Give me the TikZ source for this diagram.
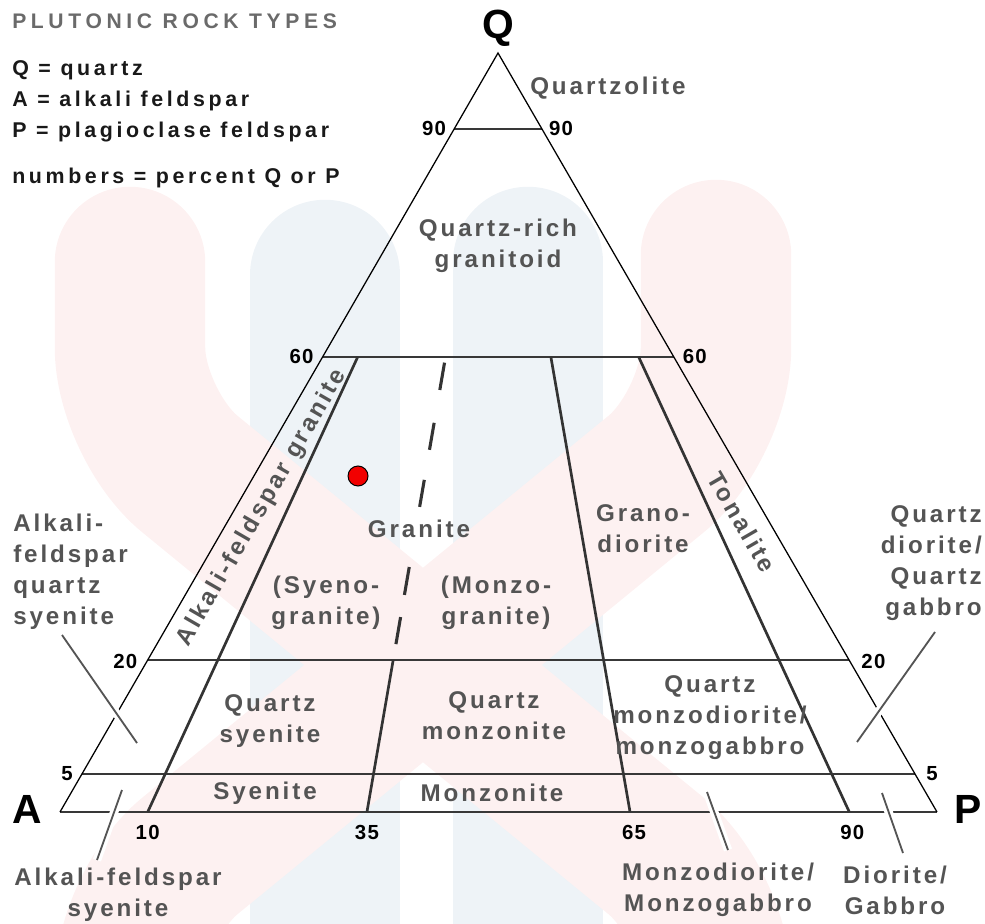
\documentclass[tikz,border=0pt]{standalone}
\usepackage{fontspec}
\setmainfont{Liberation Sans}
\newfontfamily\rockfont[LetterSpace=12]{Liberation Sans}
\newfontfamily\legendfont[LetterSpace=17]{Liberation Sans}
\newfontfamily\titlefont[LetterSpace=22]{Liberation Sans}
\newfontfamily\pctfont[LetterSpace=6]{Liberation Sans}
\usetikzlibrary{calc}

\definecolor{rockgray}{HTML}{545454}
\definecolor{titlegray}{HTML}{6A6A6A}
\definecolor{wmpink}{HTML}{FDF1F1}
\definecolor{wmblue}{HTML}{EEF3F7}

\begin{document}
\begin{tikzpicture}[x=0.025cm, y=-0.025cm,
    edge/.style={draw=black, line width=0.9pt},
    divide/.style={draw=black!78, line width=1.4pt},
    ratio/.style={draw=black!80, line width=1.9pt},
    pointer/.style={draw=rockgray, line width=1.3pt, preaction={draw=white, line width=6pt}},
    rock/.style={text=rockgray, font=\rockfont\bfseries\fontsize{17.2}{22}\selectfont, align=center, inner sep=0pt},
    pct/.style={font=\pctfont\bfseries\fontsize{14.5}{16}\selectfont, inner sep=0pt},
    corner/.style={font=\bfseries\fontsize{29}{30}\selectfont, inner sep=0pt},
    legend/.style={text=black!90, font=\legendfont\bfseries\fontsize{15.2}{16}\selectfont, inner sep=0pt, anchor=base west},
    logo/.style={line width=107pt, line cap=round, rounded corners=55pt}]

  \useasboundingbox (0,0) rectangle (985,924);

  % faint logo behind the diagram
  \draw[logo, wmblue] (325,275) -- (325,1000);
  \draw[logo, wmblue] (528,262) -- (528,1000);
  \draw[logo, wmpink] (130,262) -- (130,425) -- (716,905) -- (716,1050);
  \draw[logo, wmpink] (716,255) -- (716,425) -- (130,905) -- (130,1050);

  % corners of the triangle
  \coordinate (A) at (60,812);
  \coordinate (P) at (937,812);
  \coordinate (Q) at (498,53);

  % points on the sides
  \foreach \q in {90,60,20,5} {
    \coordinate (l\q) at ($(A)!\q/100!(Q)$);
    \coordinate (r\q) at ($(P)!\q/100!(Q)$);
  }
  \foreach \p in {10,35,65,90} {
    \coordinate (b\p) at ($(A)!\p/100!(P)$);
    \coordinate (t\p) at ($(Q)!0.4!(b\p)$);
  }
  \coordinate (m35) at ($(Q)!0.8!(b35)$);

  % Q lines
  \draw[divide] (l90) -- (r90);
  \draw[divide] (l60) -- (r60);
  \draw[divide] (l20) -- (r20);
  \draw[divide] (l5) -- (r5);
  \draw[divide] (A) -- (P);

  % P/(A+P) lines
  \draw[ratio] (b10) -- (t10);
  \draw[ratio] (b35) -- (m35);
  \draw[ratio] (b65) -- (t65);
  \draw[ratio] (b90) -- (t90);
  \foreach \s/\e in {0.02/0.11, 0.218/0.307, 0.406/0.495, 0.693/0.785, 0.858/0.947}
    \draw[ratio, line width=2.2pt] ($(t35)!\s!(m35)$) -- ($(t35)!\e!(m35)$);

  % outline
  \draw[edge, line join=miter] (A) -- (Q) -- (P);

  % corner letters
  \node[corner] (nQ) at (498,28) {Q};
  \node[corner] (nA) at (27,809) {A};
  \node[corner] (nP) at (968,809) {P};

  % percent numbers
  \node[pct, anchor=east] (nl90) at ($(l90)+(-8,0)$) {90};
  \node[pct, anchor=west] (nr90) at ($(r90)+(7,0)$) {90};
  \node[pct, anchor=east] (nl60) at ($(l60)+(-9,0)$) {60};
  \node[pct, anchor=west] (nr60) at ($(r60)+(9,0)$) {60};
  \node[pct, anchor=east] (nl20) at ($(l20)+(-10,1)$) {20};
  \node[pct, anchor=west] (nr20) at ($(r20)+(12,1)$) {20};
  \node[pct, anchor=east] (nl5) at ($(l5)+(-9,0)$) {5};
  \node[pct, anchor=west] (nr5) at ($(r5)+(11,0)$) {5};
  \node[pct] (nb10) at ($(b10)+(0,20)$) {10};
  \node[pct] (nb35) at ($(b35)+(0,20)$) {35};
  \node[pct] (nb65) at ($(b65)+(4,20)$) {65};
  \node[pct] (nb90) at ($(b90)+(3,20)$) {90};

  % rock names
  \node[rock, anchor=west] (quartzolite) at (530,88) {Quartzolite};
  \node[rock] (qrich) at (498,246) {Quartz-rich\\granitoid};
  \node[rock, rotate=60] (afgranite) at (262,508) {Alkali-feldspar granite};
  \node[rock] (granite) at (419,529) {Granite};
  \node[rock] (syenogr) at (326,603) {(Syeno-\\granite)};
  \node[rock] (monzogr) at (496,603) {(Monzo-\\granite)};
  \node[rock] (granodio) at (643,529) {Grano-\\diorite};
  \node[rock, rotate=-60] (tonalite) at (742,522) {Tonalite};
  \node[rock] (qsyenite) at (270,721) {Quartz\\syenite};
  \node[rock] (qmonzonite) at (494,716) {Quartz\\monzonite};
  \node[rock] (qmonzodio) at (710,718) {Quartz\\monzodiorite/\\monzogabbro};
  \node[rock] (syenite) at (265,793) {Syenite};
  \node[rock] (monzonite) at (492,793) {Monzonite};
  \node[rock, anchor=west, align=left] (afqsyenite) at (13,572) {Alkali-\\feldspar\\quartz\\syenite};
  \node[rock, anchor=east, align=right] (qdiorite) at (982,563) {Quartz\\diorite/\\Quartz\\gabbro};
  \node[rock] (afsyenite) at (118,895) {Alkali-feldspar\\syenite};
  \node[rock] (monzodio) at (718,890) {Monzodiorite/\\Monzogabbro};
  \node[rock] (diorite) at (895,890) {Diorite/\\Gabbro};

  % pointers to the thin fields
  \coordinate (afqsFrom) at (62,635);
  \coordinate (afqsTo) at (137,743);
  \coordinate (qdFrom) at (935,632);
  \coordinate (qdTo) at (857,742);
  \coordinate (afsFrom) at (97,860);
  \coordinate (afsTo) at (122,790);
  \coordinate (mzFrom) at (728,850);
  \coordinate (mzTo) at (707,792);
  \coordinate (dgFrom) at (903,853);
  \coordinate (dgTo) at (882,793);
  \draw[pointer] (afqsFrom) -- (afqsTo);
  \draw[pointer] (qdFrom) -- (qdTo);
  \draw[pointer] (afsFrom) -- (afsTo);
  \draw[pointer] (mzFrom) -- (mzTo);
  \draw[pointer] (dgFrom) -- (dgTo);

  % sample point
  \node[circle, fill=red!95!black, draw=black, line width=0.7pt, minimum size=0.5cm, inner sep=0pt] (sample) at (358,476) {};

  % title and key
  \node[anchor=base west, inner sep=0pt, text=titlegray, font=\titlefont\bfseries\fontsize{15}{16}\selectfont] (title) at (12,28.5) {PLUTONIC ROCK TYPES};
  \node[legend] (legQ) at (12,75.5) {Q = quartz};
  \node[legend] (legA) at (12,106.5) {A = alkali feldspar};
  \node[legend] (legP) at (12,137.5) {P = plagioclase feldspar};
  \node[legend] (legN) at (12,183.5) {numbers = percent Q or P};
\end{tikzpicture}
\end{document}
